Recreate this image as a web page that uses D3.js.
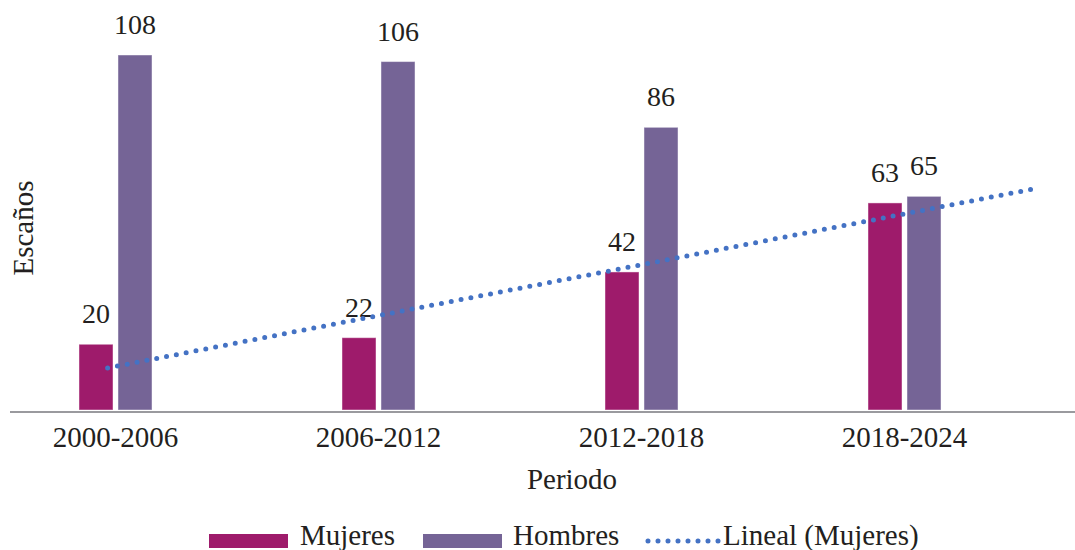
<!DOCTYPE html>
<html>
<head>
<meta charset="utf-8">
<script src="https://cdn.jsdelivr.net/npm/d3@7"></script>
<style>
  html, body { margin: 0; padding: 0; background: #fff; }
  svg { display: block; }
  svg text { font-family: "Liberation Serif", "Times New Roman", serif; fill: #231f20; }
</style>
</head>
<body>
<div id="chart"></div>
<script>
// Escaños por periodo
const periods  = ['2000-2006', '2006-2012', '2012-2018', '2018-2024'];
const series   = ['Mujeres', 'Hombres'];
const mujeres  = [20, 22, 42, 63];
const hombres  = [108, 106, 86, 65];
// línea de tendencia (Excel), extremos: [categoría, valor]
const trendPts = [[0.97, 12.8], [4.5, 67.4]];

const colors = { Mujeres: '#9e1b6b', Hombres: '#756496', trend: '#4472c4' };

const W = 1075, H = 550;
const plotL = -16, plotR = 1036;   // área de trazado (recortada a la izquierda)
const baseY = 410, topY = 55;

const svg = d3.select('#chart').append('svg')
    .attr('width', W).attr('height', H);

const x = d3.scaleBand()
    .domain(periods)
    .range([plotL, plotR])
    .paddingInner(0.7224)
    .paddingOuter(0.3612);

const xs = d3.scaleBand()
    .domain(series)
    .range([0, x.bandwidth()])
    .paddingInner(0.128);

const y = d3.scaleLinear()
    .domain([0, d3.max(hombres.concat(mujeres))])
    .range([baseY, topY]);

// eje de categorías en unidades 1..n para la tendencia
const xc = d3.scaleLinear()
    .domain([0.5, periods.length + 0.5])
    .range([plotL, plotR]);

const rows = periods.map((p, i) => ({ period: p, Mujeres: mujeres[i], Hombres: hombres[i] }));

const g = svg.append('g');

const groups = g.selectAll('g.grp').data(rows).join('g')
    .attr('class', 'grp')
    .attr('transform', d => `translate(${x(d.period)},0)`);

const cells = groups.selectAll('g.cell')
    .data(d => series.map(s => ({ key: s, value: d[s] })))
    .join('g').attr('class', 'cell');

cells.append('rect')
    .attr('x', d => xs(d.key))
    .attr('y', d => y(d.value))
    .attr('width', xs.bandwidth())
    .attr('height', d => y(0) - y(d.value))
    .attr('fill', d => colors[d.key])
    .attr('stroke', 'rgba(255,255,255,0.45)')
    .attr('stroke-width', 1);

cells.append('text')
    .attr('x', d => xs(d.key) + xs.bandwidth() / 2)
    .attr('y', d => y(d.value) - 21)
    .attr('text-anchor', 'middle')
    .style('font-size', '28px')
    .text(d => d.value);

// eje horizontal
g.append('line')
    .attr('x1', 10).attr('x2', W)
    .attr('y1', baseY + 2).attr('y2', baseY + 2)
    .attr('stroke', '#9a9a9e').attr('stroke-width', 2.2);

const xAxis = g.append('g')
    .attr('transform', `translate(0,${baseY + 2})`)
    .call(d3.axisBottom(x).tickSize(0).tickPadding(0))
    .attr('font-family', null)
    .attr('font-size', null);
xAxis.select('.domain').remove();
xAxis.selectAll('text')
    .attr('dy', 0).attr('y', 35)
    .attr('fill', null)
    .style('font-size', '29px');

// tendencia lineal (Mujeres)
const trendLine = d3.line().x(d => xc(d[0])).y(d => y(d[1]));
g.append('path')
    .attr('d', trendLine(trendPts))
    .attr('fill', 'none')
    .attr('stroke', colors.trend)
    .attr('stroke-width', 5)
    .attr('stroke-linecap', 'round')
    .attr('stroke-dasharray', '0 10');

// títulos de ejes
svg.append('text')
    .attr('x', 572).attr('y', 489)
    .attr('text-anchor', 'middle')
    .style('font-size', '29px')
    .text('Periodo');

svg.append('text')
    .attr('transform', 'translate(33,228) rotate(-90)')
    .attr('text-anchor', 'middle')
    .style('font-size', '29px')
    .text('Escaños');

// leyenda
const legend = svg.append('g');
const legItems = [
    { key: 'Mujeres', type: 'rect', x: 209, tx: 300 },
    { key: 'Hombres', type: 'rect', x: 423, tx: 513 },
    { key: 'Lineal (Mujeres)', type: 'dot', x: 648, tx: 723 }
];
legItems.forEach(it => {
    if (it.type === 'rect') {
        legend.append('rect')
            .attr('x', it.x).attr('y', 534)
            .attr('width', 79).attr('height', 14)
            .attr('fill', colors[it.key]);
    } else {
        legend.append('line')
            .attr('x1', it.x).attr('x2', it.x + 72)
            .attr('y1', 541).attr('y2', 541)
            .attr('stroke', colors.trend)
            .attr('stroke-width', 5)
            .attr('stroke-linecap', 'round')
            .attr('stroke-dasharray', '0 10');
    }
    legend.append('text')
        .attr('x', it.tx).attr('y', 545)
        .style('font-size', '29px')
        .text(it.key);
});
</script>
</body>
</html>
